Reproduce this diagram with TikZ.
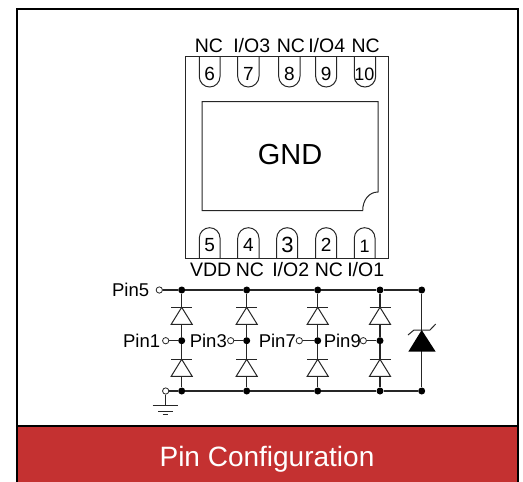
\documentclass[tikz,border=0pt]{standalone}
\usepackage{fontspec}
\setmainfont{Liberation Sans}
\definecolor{bandred}{HTML}{C43131}
\definecolor{ink}{HTML}{262626}
\newcommand{\fs}[1]{\fontsize{#1}{#1}\selectfont}
\tikzset{
  x=1pt,y=-1pt,
  frameline/.style={draw=black,line width=2pt},
  pkgline/.style={draw=ink,line width=1pt},
  wire/.style={draw=ink,line width=1.2pt},
  plabel/.style={inner sep=0pt,text=black,font=\fs{19.5}},
  pinno/.style={inner sep=0pt,text=black,font=\fs{19}},
  clabel/.style={inner sep=0pt,text=black,font=\fs{18.5}},
  jdot/.style={circle,fill=black,draw=none,inner sep=0pt,minimum size=7pt},
  opendot/.style={circle,draw=ink,fill=white,line width=0.8pt,inner sep=0pt,minimum size=6.3pt},
  pics/updiode/.style={code={
    \draw[wire,line width=1pt,fill=white] (0,0) -- (-10.5,17) -- (10.5,17) -- cycle;
    \draw[wire,line width=1pt] (-10.5,0) -- (10.5,0);
  }},
}
\begin{document}
\begin{tikzpicture}
\useasboundingbox (0,0) rectangle (523,482);
% outer frame and band
\fill[bandred] (17,426) rectangle (517.5,482);
\draw[frameline] (17,482) -- (17,9) -- (517.5,9) -- (517.5,482);
\draw[frameline] (17,426) -- (517.5,426);
\node[inner sep=0pt,text=white,font=\fs{28}] (title) at (267,459.5) {Pin Configuration};
% package
\draw[pkgline] (185.7,56.7) rectangle (388,258);
\draw[pkgline] (202,101.7) -- (378,101.7) -- (378,192) .. controls (369,192) and (362.7,200) .. (362.7,210.7) -- (202,210.7) -- cycle;
\node[inner sep=0pt,text=black,font=\fs{29}] (gnd) at (290,155) {GND};
% top pads
\foreach \a/\b in {199.3/220,237.7/259,278.7/300,315.7/336.7,354.3/375.7}{
  \pgfmathsetmacro{\rr}{(\b-\a)/2}
  \draw[pkgline] (\a,56.7) -- (\a,87-\rr) arc[start angle=180,end angle=360,radius=\rr pt] -- (\b,56.7);
}
% bottom pads
\foreach \a/\b in {199.3/220,237.7/259,276.7/297.7,315.7/336.7,354.3/375}{
  \pgfmathsetmacro{\rr}{(\b-\a)/2}
  \draw[pkgline] (\a,258) -- (\a,227.7+\rr) arc[start angle=180,end angle=0,radius=\rr pt] -- (\b,258);
}
\node[pinno] (n6) at (209.7,74) {6};
\node[pinno] (n7) at (248.3,74) {7};
\node[pinno] (n8) at (289.3,74) {8};
\node[pinno] (n9) at (326.2,74) {9};
\node[pinno,font=\fs{18}] (n10) at (364.5,74) {10};
\node[pinno] (n5) at (209.7,245) {5};
\node[pinno] (n4) at (248.3,245) {4};
\node[pinno,font=\fs{22}] (n3) at (287.5,245) {3};
\node[pinno] (n2) at (326.2,245) {2};
\node[pinno,font=\fs{18}] (n1) at (364.7,246) {1};
\node[plabel] (l6) at (209,46) {NC};
\node[plabel] (l7) at (251.7,46) {I/O3};
\node[plabel] (l8) at (291,46) {NC};
\node[plabel] (l9) at (326.7,46) {I/O4};
\node[plabel] (l10) at (365.7,46) {NC};
\node[plabel] (l5) at (210.7,270) {VDD};
\node[plabel] (l4) at (250,270) {NC};
\node[plabel] (l3) at (290.7,270) {I/O2};
\node[plabel] (l2) at (329,270) {NC};
\node[plabel] (l1) at (365.7,270) {I/O1};
% junctions
\foreach \n/\x in {a/181.7,b/246.7,c/317.7,d/380}{
  \node[jdot] (t\n) at (\x,290) {};
  \node[jdot] (m\n) at (\x,340.7) {};
  \node[jdot] (g\n) at (\x,391) {};
}
\node[jdot] (te) at (421.7,290) {};
\node[jdot] (ge) at (421.7,391) {};
\node[opendot] (p5) at (159.3,290) {};
\node[opendot] (p1) at (165.7,340.7) {};
\node[opendot] (p3) at (230.7,340.7) {};
\node[opendot] (p7) at (299.3,340.7) {};
\node[opendot] (p9) at (363.3,340.7) {};
\node[opendot] (pg) at (165.7,391) {};
\coordinate (gbar) at (165.7,405);
% wires
\draw[wire] (p5) -- (ta) -- (tb) -- (tc) -- (td) -- (te) -- (ge) -- (gd) -- (gc) -- (gb) -- (ga) -- (pg);
\foreach \n in {a,b,c,d}{ \draw[wire] (t\n) -- (m\n) -- (g\n); }
\draw[wire] (p1) -- (ma);
\draw[wire] (p3) -- (mb);
\draw[wire] (p7) -- (mc);
\draw[wire] (p9) -- (md);
\draw[wire] (pg) -- (gbar);
% diodes
\foreach \x in {181.7,246.7,317.7,380}{
  \pic at (\x,307.3) {updiode};
  \pic at (\x,359.3) {updiode};
}
% TVS
\fill[black] (421.7,330) -- (408.3,351.7) -- (435.7,351.7) -- cycle;
\draw[wire,line width=1pt] (408,335) -- (414,330) -- (430,330) -- (435.7,324);
% ground
\draw[wire,line width=1pt] (152.7,405) -- (177.7,405);
\draw[wire,line width=1pt] (158,411) -- (172.7,411);
\draw[wire,line width=1pt] (162.7,414.5) -- (168,414.5);
% labels
\node[clabel,anchor=east] (l5b) at (149.3,290) {Pin5};
\node[clabel,anchor=east] (l1b) at (160.3,340.7) {Pin1};
\node[clabel,anchor=east] (l3b) at (227,340.7) {Pin3};
\node[clabel,anchor=east] (l7b) at (296,340.7) {Pin7};
\node[clabel,anchor=east] (l9b) at (361,340.7) {Pin9};
\end{tikzpicture}
\end{document}
